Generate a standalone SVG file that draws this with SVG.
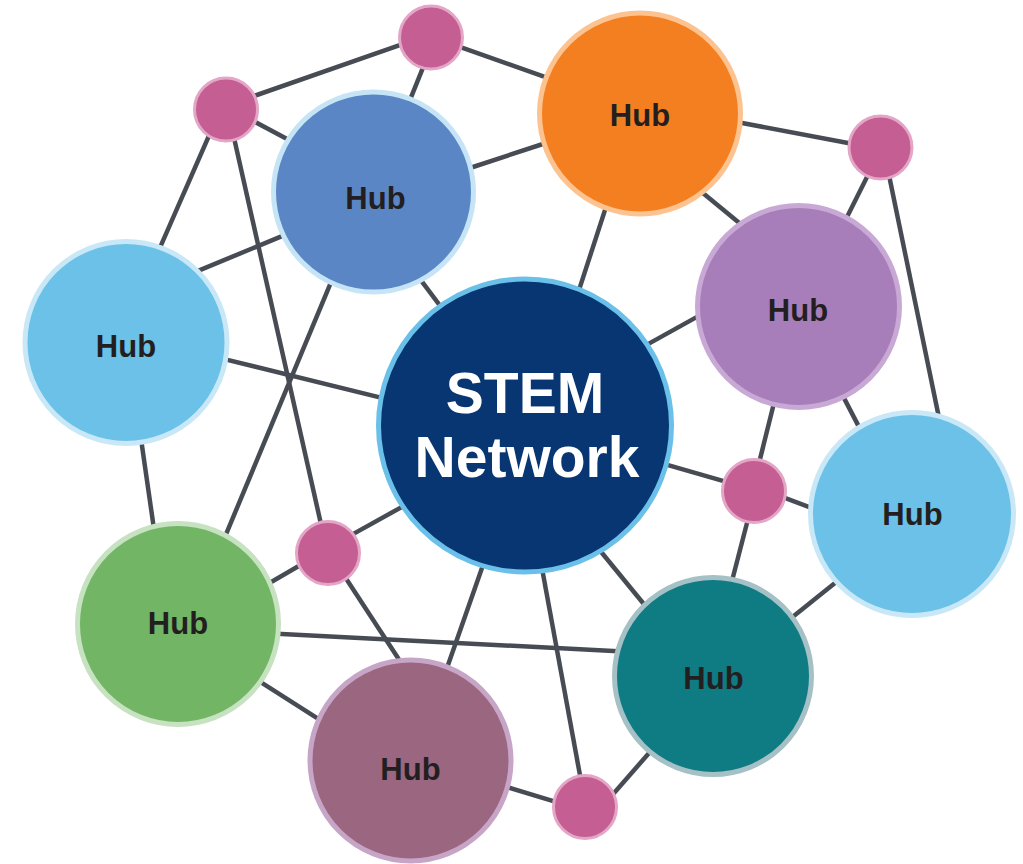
<svg xmlns="http://www.w3.org/2000/svg" width="1023" height="864" viewBox="0 0 1023 864">
<style>
.edge{stroke:#474c54;stroke-width:4.5;fill:none;stroke-linecap:butt}
.hub{stroke-width:5}
.pink{fill:#c45e93;stroke:#e4a6c6;stroke-width:3}
.lbl{font-family:"Liberation Sans",Arial,sans-serif;font-weight:bold;font-size:31px;fill:#231f20;text-anchor:middle}
.core{font-family:"Liberation Sans",Arial,sans-serif;font-weight:bold;font-size:57px;fill:#ffffff;text-anchor:middle}
</style>
<rect width="1023" height="864" fill="#ffffff"/>
<g id="connectors" class="edge">
<line x1="249.4" y1="97.6" x2="407.6" y2="42.4"/>
<line x1="455.5" y1="45.3" x2="552.5" y2="79.7"/>
<line x1="425" y1="62.6" x2="409" y2="102.4"/>
<line x1="468.4" y1="168.5" x2="550.6" y2="141.5"/>
<line x1="249.9" y1="119.2" x2="294.1" y2="142.8"/>
<line x1="211.2" y1="130.7" x2="158.8" y2="250.3"/>
<line x1="233.2" y1="134.2" x2="321.8" y2="527.8"/>
<line x1="192.6" y1="273.1" x2="287.4" y2="233.9"/>
<line x1="332.1" y1="279.6" x2="223.9" y2="539.4"/>
<line x1="418.2" y1="276.6" x2="442.8" y2="309.4"/>
<line x1="220.2" y1="358.1" x2="385.8" y2="398.9"/>
<line x1="140.9" y1="438.1" x2="154.1" y2="529.9"/>
<line x1="348" y1="536.9" x2="407" y2="504.1"/>
<line x1="266.1" y1="585" x2="303.9" y2="563"/>
<line x1="342.6" y1="573.3" x2="402.4" y2="664.7"/>
<line x1="272" y1="633.6" x2="623" y2="651.4"/>
<line x1="255.2" y1="678.7" x2="323.8" y2="722.3"/>
<line x1="484.6" y1="560.4" x2="445.4" y2="672.6"/>
<line x1="541.6" y1="566.1" x2="581.4" y2="782.9"/>
<line x1="596.9" y1="546.8" x2="648.1" y2="609.2"/>
<line x1="502.3" y1="785.7" x2="560.7" y2="803.3"/>
<line x1="609.7" y1="798" x2="654.3" y2="747"/>
<line x1="731" y1="584.7" x2="749" y2="515.3"/>
<line x1="788.8" y1="620" x2="841.2" y2="578"/>
<line x1="777.5" y1="495.2" x2="816.5" y2="509.8"/>
<line x1="660.3" y1="462.8" x2="730.7" y2="483.2"/>
<line x1="758.1" y1="466.8" x2="774.9" y2="399.2"/>
<line x1="841.3" y1="392.9" x2="861.7" y2="432.1"/>
<line x1="888.4" y1="172.2" x2="939.6" y2="420.8"/>
<line x1="870.6" y1="169.8" x2="844.4" y2="222.2"/>
<line x1="734.1" y1="121.5" x2="855.9" y2="144.5"/>
<line x1="696.8" y1="187.9" x2="744.2" y2="227.1"/>
<line x1="607.5" y1="202.4" x2="577.5" y2="294.6"/>
<line x1="702" y1="314.1" x2="643" y2="346.9"/>
</g>
<g id="stem">
<circle cx="525" cy="425.5" r="146.5" fill="#073672" stroke="#6ac0e8" stroke-width="5"/>
<text class="core" x="525" y="413">STEM</text>
<text class="core" x="527" y="477">Network</text>
</g>
<g id="hub-orange">
<circle class="hub" cx="640" cy="113.5" r="100.5" fill="#f47f20" stroke="#fcc390"/>
<text class="lbl" x="640" y="126">Hub</text>
</g>
<g id="hub-blue">
<circle class="hub" cx="373.5" cy="192" r="100" fill="#5b86c5" stroke="#c5e5f6"/>
<text class="lbl" x="375.5" y="209">Hub</text>
</g>
<g id="hub-lightblue-left">
<circle class="hub" cx="126" cy="342.5" r="101" fill="#6bc1e7" stroke="#c8e8f7"/>
<text class="lbl" x="126" y="357">Hub</text>
</g>
<g id="hub-purple">
<circle class="hub" cx="798.5" cy="306.5" r="101" fill="#a77eb9" stroke="#c8a9d5"/>
<text class="lbl" x="798" y="321">Hub</text>
</g>
<g id="hub-lightblue-right">
<circle class="hub" cx="912" cy="514" r="101.5" fill="#6bc1e7" stroke="#c8e8f7"/>
<text class="lbl" x="912.5" y="525">Hub</text>
</g>
<g id="hub-teal">
<circle class="hub" cx="713" cy="676" r="98.5" fill="#0f7b83" stroke="#a5c1c6"/>
<text class="lbl" x="713.5" y="689">Hub</text>
</g>
<g id="hub-mauve">
<circle class="hub" cx="410.5" cy="760.5" r="100.5" fill="#9a6680" stroke="#c7a5c6"/>
<text class="lbl" x="410.5" y="780">Hub</text>
</g>
<g id="hub-green">
<circle class="hub" cx="178" cy="624" r="100.5" fill="#71b565" stroke="#c6e2c0"/>
<text class="lbl" x="178" y="634">Hub</text>
</g>
<g id="dot-1"><circle class="pink" cx="226" cy="109.5" r="31.5"/></g>
<g id="dot-2"><circle class="pink" cx="431" cy="37.5" r="31.5"/></g>
<g id="dot-3"><circle class="pink" cx="880.5" cy="147.5" r="31.5"/></g>
<g id="dot-4"><circle class="pink" cx="754" cy="491" r="31.5"/></g>
<g id="dot-5"><circle class="pink" cx="328" cy="553" r="31.5"/></g>
<g id="dot-6"><circle class="pink" cx="585" cy="807" r="31.5"/></g>
</svg>
